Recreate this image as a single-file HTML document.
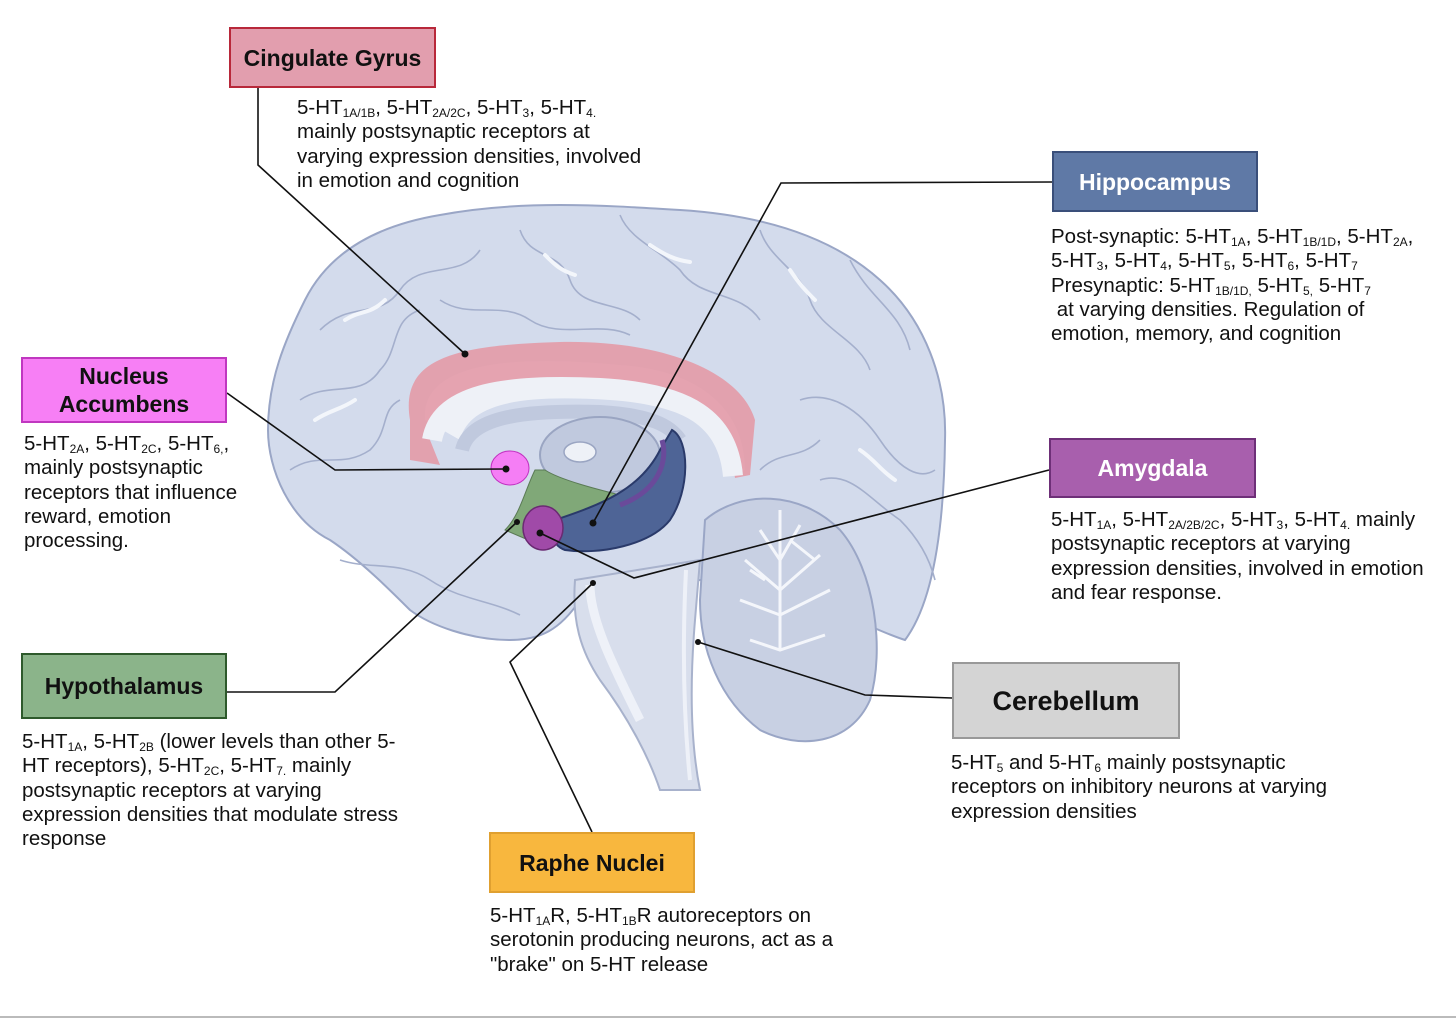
<!DOCTYPE html>
<html><head><meta charset="utf-8"><style>
body{margin:0;width:1456px;height:1019px;background:#fff;position:relative;overflow:hidden;font-family:"Liberation Sans",Arial,sans-serif;}
.box{position:absolute;box-sizing:border-box;border:2px solid;display:flex;align-items:center;justify-content:center;text-align:center;font-weight:bold;font-size:23px;line-height:28px;}
.t{position:absolute;font-size:20.5px;line-height:24.3px;color:#111;white-space:nowrap;}
sub{font-size:12px;vertical-align:-3px;line-height:0;}
</style></head><body>
<svg width="1456" height="1019" style="position:absolute;left:0;top:0">
<!-- cerebrum -->
<path d="M330,540 C290,520 268,470 268,430 C268,380 285,340 305,300 C330,250 380,225 440,215 C520,200 600,205 680,210 C760,215 830,235 880,280 C925,320 947,380 945,440 C944,520 935,600 905,640 C860,625 800,590 760,580 L700,580 L580,600 C560,630 540,640 510,640 C470,640 430,625 410,610 C390,590 360,560 330,540 Z" fill="#d3dbec" stroke="#9aa6c6" stroke-width="2"/>
<g stroke="#a4afcc" stroke-width="1.6" fill="none">
<path d="M320,330 C350,300 380,320 400,290 C420,260 460,280 480,250"/>
<path d="M300,400 C330,380 360,400 380,370 C400,350 390,320 420,310"/>
<path d="M290,470 C320,450 340,470 370,450 C390,430 380,410 400,400"/>
<path d="M520,230 C530,260 560,250 570,280 C580,310 620,300 640,320"/>
<path d="M620,215 C630,240 660,250 680,270 C700,300 740,290 760,320"/>
<path d="M760,230 C770,260 800,270 810,300 C820,330 860,340 870,370"/>
<path d="M850,260 C870,300 900,310 910,350"/>
<path d="M800,400 C830,390 860,410 880,440 C900,470 920,480 935,470"/>
<path d="M820,480 C850,470 870,500 900,520 C920,540 930,560 935,580"/>
<path d="M440,300 C470,320 500,300 530,320 C560,340 600,320 630,335"/>
<path d="M340,560 C370,570 400,560 430,580 C460,600 490,600 520,615"/>
<path d="M760,470 C780,450 800,460 820,440"/>
</g>
<g stroke="#f3f6fb" stroke-width="4" fill="none" stroke-linecap="round">
<path d="M345,320 C360,310 370,315 385,300"/><path d="M545,255 C555,265 560,270 575,275"/>
<path d="M650,245 C665,255 675,260 690,262"/><path d="M790,270 C800,285 805,290 815,300"/>
<path d="M315,420 C330,410 340,410 355,400"/><path d="M860,450 C875,460 880,470 895,480"/>
</g>
<!-- cerebellum -->
<path d="M705,520 C740,490 800,490 840,530 C875,570 885,650 870,700 C850,745 800,750 760,730 C720,700 700,650 700,600 Z" fill="#c8d0e3" stroke="#9aa6c6" stroke-width="2"/>
<g stroke="#f4f6fb" stroke-width="3" fill="none">
<path d="M780,510 L780,650 M760,530 L780,560 L800,525 M745,560 L780,590 L820,555 M740,600 L780,615 L830,590 M750,640 L780,650 L825,635 M790,540 L815,560 M765,580 L750,570"/>
</g>
<!-- brainstem -->
<path d="M575,580 C572,620 580,650 600,680 C630,720 650,760 660,790 L700,790 C690,740 690,680 695,620 L700,560 Z" fill="#d8deec" stroke="#a8b2cc" stroke-width="2"/>
<path d="M590,585 C590,620 615,670 640,720" stroke="#eef1f8" stroke-width="9" fill="none"/>
<path d="M686,570 C682,650 684,720 690,780" stroke="#eef1f8" stroke-width="4" fill="none"/>
<!-- corpus callosum area -->
<path d="M425,420 C420,360 520,355 620,365 C700,370 745,410 745,470 L735,475 C720,425 680,405 610,400 C530,395 470,400 460,440 Z" fill="#eef1f7"/>
<path d="M410,420 C400,360 450,345 560,342 C660,340 740,370 755,420 L750,475 L735,478 C730,430 700,395 600,385 C500,378 440,385 430,440 L440,465 L410,460 Z" fill="#e39aa7" opacity="0.9"/>
<path d="M432,440 C440,395 500,383 600,388 C690,393 728,420 733,476" stroke="#eef1f7" stroke-width="20" fill="none"/>
<path d="M462,450 C470,415 530,410 600,412 C650,415 670,425 680,440" stroke="#c0c9de" stroke-width="14" fill="none"/>
<ellipse cx="600" cy="455" rx="60" ry="38" fill="#c0c9de" stroke="#9aa5c2" stroke-width="2"/>
<ellipse cx="580" cy="452" rx="16" ry="10" fill="#eef1f7" stroke="#9aa5c2" stroke-width="1.5"/>
<path d="M545,470 C560,480 600,490 620,495 L560,520 L540,545 L505,530 C520,515 525,490 535,470 Z" fill="#80a878" stroke="#5a7a55" stroke-width="1"/>
<ellipse cx="510" cy="468" rx="19" ry="17" fill="#f57ef5" stroke="#c030c0" stroke-width="1"/>
<path d="M555,520 C600,505 640,490 660,450 L672,430 C690,440 690,490 670,520 C650,545 600,555 565,550 C550,545 548,525 555,520 Z" fill="#4e6496" stroke="#2a3a6a" stroke-width="2"/>
<path d="M662,440 C668,460 660,490 620,505" stroke="#6a4a9a" stroke-width="5" fill="none"/>
<ellipse cx="543" cy="528" rx="20" ry="22" fill="#a04aa8" stroke="#6a2a72" stroke-width="1.5"/>
<g stroke="#111" stroke-width="1.6" fill="none">
<polyline points="258,88 258,165 465,354"/>
<polyline points="1052,182 781,183 593,523"/>
<polyline points="227,393 335,470 506,469"/>
<polyline points="1049,470 634,578 540,533"/>
<polyline points="227,692 335,692 517,522"/>
<polyline points="592,832 510,662 593,583"/>
<polyline points="952,698 865,695 698,642"/>
</g>
<g fill="#111"><circle cx="465" cy="354" r="3.5"/><circle cx="593" cy="523" r="3.5"/><circle cx="506" cy="469" r="3.5"/><circle cx="540" cy="533" r="3.5"/><circle cx="517" cy="522" r="3"/><circle cx="593" cy="583" r="3"/><circle cx="698" cy="642" r="3"/></g>
<line x1="0" y1="1017" x2="1456" y2="1017" stroke="#bbb" stroke-width="2"/>
</svg>

<div class="box" style="left:229px;top:27px;width:207px;height:61px;background:#e29eae;border-color:#b8283a;color:#111">Cingulate Gyrus</div>
<div class="t" style="left:297px;top:96px">5-HT<sub>1A/1B</sub>, 5-HT<sub>2A/2C</sub>, 5-HT<sub>3</sub>, 5-HT<sub>4.</sub><br>mainly postsynaptic receptors at<br>varying expression densities, involved<br>in emotion and cognition</div>

<div class="box" style="left:1052px;top:151px;width:206px;height:61px;background:#5f79a6;border-color:#3a4f7a;color:#fff">Hippocampus</div>
<div class="t" style="left:1051px;top:225px">Post-synaptic: 5-HT<sub>1A</sub>, 5-HT<sub>1B/1D</sub>, 5-HT<sub>2A</sub>,<br>5-HT<sub>3</sub>, 5-HT<sub>4</sub>, 5-HT<sub>5</sub>, 5-HT<sub>6</sub>, 5-HT<sub>7</sub><br>Presynaptic: 5-HT<sub>1B/1D,</sub> 5-HT<sub>5,</sub> 5-HT<sub>7</sub><br>&nbsp;at varying densities. Regulation of<br>emotion, memory, and cognition</div>

<div class="box" style="left:21px;top:357px;width:206px;height:66px;background:#f77ff5;border-color:#c037c0;color:#111">Nucleus<br>Accumbens</div>
<div class="t" style="left:24px;top:432px">5-HT<sub>2A</sub>, 5-HT<sub>2C</sub>, 5-HT<sub>6,</sub>,<br>mainly postsynaptic<br>receptors that influence<br>reward, emotion<br>processing.</div>

<div class="box" style="left:1049px;top:438px;width:207px;height:60px;background:#a85fad;border-color:#6e2f78;color:#fff">Amygdala</div>
<div class="t" style="left:1051px;top:508px">5-HT<sub>1A</sub>, 5-HT<sub>2A/2B/2C</sub>, 5-HT<sub>3</sub>, 5-HT<sub>4.</sub> mainly<br>postsynaptic receptors at varying<br>expression densities, involved in emotion<br>and fear response.</div>

<div class="box" style="left:21px;top:653px;width:206px;height:66px;background:#8bb48a;border-color:#2e5a2c;color:#111">Hypothalamus</div>
<div class="t" style="left:22px;top:730px">5-HT<sub>1A</sub>, 5-HT<sub>2B</sub> (lower levels than other 5-<br>HT receptors), 5-HT<sub>2C</sub>, 5-HT<sub>7.</sub> mainly<br>postsynaptic receptors at varying<br>expression densities that modulate stress<br>response</div>

<div class="box" style="left:952px;top:662px;width:228px;height:77px;background:#d4d4d4;border-color:#999;color:#111;font-size:27px">Cerebellum</div>
<div class="t" style="left:951px;top:751px">5-HT<sub>5</sub> and 5-HT<sub>6</sub> mainly postsynaptic<br>receptors on inhibitory neurons at varying<br>expression densities</div>

<div class="box" style="left:489px;top:832px;width:206px;height:61px;background:#f8b73e;border-color:#e0a030;color:#111">Raphe Nuclei</div>
<div class="t" style="left:490px;top:904px">5-HT<sub>1A</sub>R, 5-HT<sub>1B</sub>R autoreceptors on<br>serotonin producing neurons, act as a<br>"brake" on 5-HT release</div>
</body></html>
